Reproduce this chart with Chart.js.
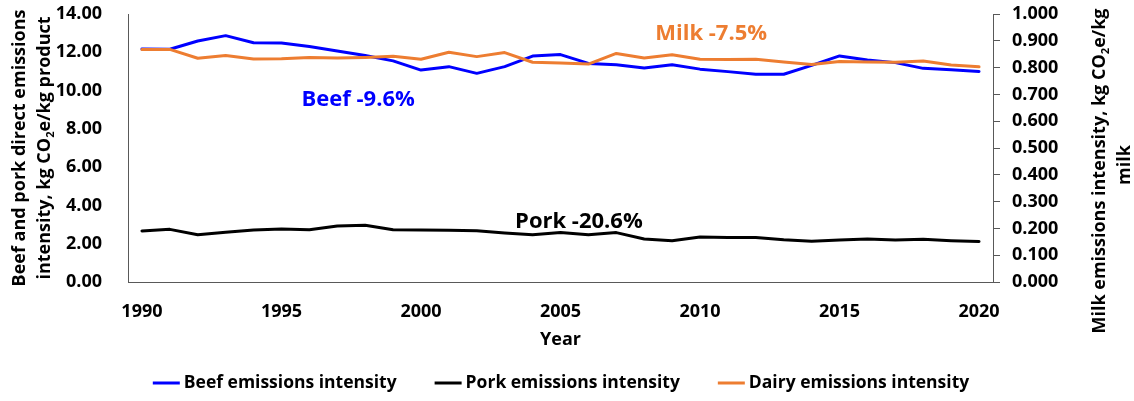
<!DOCTYPE html>
<html>
<head>
<meta charset="utf-8">
<script src="https://cdn.jsdelivr.net/npm/chart.js@4.4.1/dist/chart.umd.min.js"></script>
<style>
  html, body { margin: 0; padding: 0; background: #ffffff; }
  #wrap { width: 1134px; height: 401px; }
</style>
</head>
<body>
<div id="wrap"><canvas id="chart" width="1134" height="401"></canvas></div>
<script>
// Years on the horizontal axis
const years = [1990, 1991, 1992, 1993, 1994, 1995, 1996, 1997, 1998, 1999,
               2000, 2001, 2002, 2003, 2004, 2005, 2006, 2007, 2008, 2009,
               2010, 2011, 2012, 2013, 2014, 2015, 2016, 2017, 2018, 2019, 2020];

// Beef direct emissions intensity, kg CO2e/kg product (left axis)
const beef = [12.17, 12.16, 12.59, 12.87, 12.50, 12.49, 12.30, 12.07, 11.83, 11.55,
              11.07, 11.25, 10.90, 11.25, 11.80, 11.88, 11.42, 11.35, 11.18, 11.35,
              11.12, 10.99, 10.85, 10.85, 11.32, 11.81, 11.60, 11.46, 11.16, 11.09, 11.00];

// Pork direct emissions intensity, kg CO2e/kg product (left axis)
const pork = [2.67, 2.75, 2.47, 2.60, 2.72, 2.77, 2.73, 2.93, 2.96, 2.73,
              2.72, 2.70, 2.68, 2.56, 2.47, 2.58, 2.47, 2.58, 2.25, 2.16,
              2.35, 2.32, 2.33, 2.21, 2.13, 2.19, 2.25, 2.19, 2.23, 2.16, 2.12];

// Milk emissions intensity, kg CO2e/kg milk (right axis)
const dairy = [0.868, 0.868, 0.835, 0.845, 0.832, 0.833, 0.838, 0.836, 0.838, 0.842,
               0.831, 0.857, 0.841, 0.856, 0.820, 0.817, 0.813, 0.853, 0.836, 0.848,
               0.831, 0.830, 0.831, 0.821, 0.812, 0.823, 0.821, 0.820, 0.825, 0.810, 0.803];

// Axis ranges and tick steps
const leftTicks = { min: 0, max: 14, step: 2 };
const rightTicks = { min: 0, max: 1, step: 0.1 };

// Change labels placed next to the lines (year index, value, axis)
const notes = [
  { text: 'Beef -9.6%',  color: '#0000FF', at: 7.75,  value: 9.5,   axis: 'y'  },
  { text: 'Milk -7.5%',  color: '#ED7D31', at: 20.4,  value: 0.925, axis: 'y1' },
  { text: 'Pork -20.6%', color: '#000000', at: 15.66, value: 3.13,  axis: 'y'  }
];

const FONT = '"Open Sans", "DejaVu Sans", sans-serif';
const TEXT = '#000000';
const AXIS = '#595959';

// Draws a line of text with an optional subscript part, centred at (x, y)
function drawRich(ctx, parts, x, y, rot, size) {
  ctx.save();
  ctx.translate(x, y);
  ctx.rotate(rot);
  ctx.textBaseline = 'middle';
  ctx.textAlign = 'left';
  let total = 0;
  const widths = parts.map(p => {
    ctx.font = 'bold ' + (p.sub ? size * 0.62 : size) + 'px ' + FONT;
    const w = ctx.measureText(p.t).width;
    total += w;
    return w;
  });
  let cx = -total / 2;
  parts.forEach((p, i) => {
    ctx.font = 'bold ' + (p.sub ? size * 0.62 : size) + 'px ' + FONT;
    ctx.fillStyle = TEXT;
    ctx.fillText(p.t, cx, p.sub ? size * 0.3 : 0);
    cx += widths[i];
  });
  ctx.restore();
}

const decorations = {
  id: 'decorations',
  afterDatasetsDraw(chart) {
    const { ctx, chartArea, scales } = chart;
    const midY = (chartArea.top + chartArea.bottom) / 2;

    // Left axis title (two lines)
    drawRich(ctx, [{ t: 'Beef and pork direct emissions' }], 20, midY, -Math.PI / 2, 18);
    drawRich(ctx, [{ t: 'intensity, kg CO' }, { t: '2', sub: true }, { t: 'e/kg product' }], 45, midY, -Math.PI / 2, 18);

    // Right axis title (two lines)
    drawRich(ctx, [{ t: 'Milk emissions intensity, kg CO' }, { t: '2', sub: true }, { t: 'e/kg' }], 1100, 171, -Math.PI / 2, 18);
    drawRich(ctx, [{ t: 'milk' }], 1125, 165, -Math.PI / 2, 18);

    // Percentage change labels
    ctx.save();
    ctx.font = 'bold 22px ' + FONT;
    ctx.textAlign = 'center';
    ctx.textBaseline = 'middle';
    notes.forEach(n => {
      ctx.fillStyle = n.color;
      ctx.fillText(n.text, scales.x.getPixelForValue(n.at), scales[n.axis].getPixelForValue(n.value));
    });
    ctx.restore();

    // Legend: short line sample followed by the series name
    ctx.save();
    ctx.font = 'bold 17.5px ' + FONT;
    ctx.textBaseline = 'middle';
    ctx.textAlign = 'left';
    const sample = 27, gapText = 4, gapItem = 38;
    const items = chart.data.datasets.map(ds => ({ ds, w: ctx.measureText(ds.label).width }));
    const total = items.reduce((s, it) => s + sample + gapText + it.w, 0) + gapItem * (items.length - 1);
    let x = 561 - total / 2;
    const y = 383;
    items.forEach(it => {
      ctx.strokeStyle = it.ds.borderColor;
      ctx.lineWidth = 3;
      ctx.beginPath();
      ctx.moveTo(x, y);
      ctx.lineTo(x + sample, y);
      ctx.stroke();
      ctx.fillStyle = TEXT;
      ctx.fillText(it.ds.label, x + sample + gapText, y);
      x += sample + gapText + it.w + gapItem;
    });
    ctx.restore();
  }
};

const tickFont = { family: FONT, size: 18, weight: 'bold' };

// Fixed axis widths; labels may overhang the plot's top edge
function fixWidth(w) {
  return s => { s.width = w; s.paddingTop = 0; s.paddingBottom = 0; };
}

new Chart(document.getElementById('chart'), {
  type: 'line',
  data: {
    labels: years,
    datasets: [
      { label: 'Beef emissions intensity', data: beef, yAxisID: 'y',
        borderColor: '#0000FF', backgroundColor: '#0000FF', borderWidth: 3, order: 1 },
      { label: 'Pork emissions intensity', data: pork, yAxisID: 'y',
        borderColor: '#000000', backgroundColor: '#000000', borderWidth: 3, order: 2 },
      { label: 'Dairy emissions intensity', data: dairy, yAxisID: 'y1',
        borderColor: '#ED7D31', backgroundColor: '#ED7D31', borderWidth: 3, order: 0 }
    ]
  },
  options: {
    responsive: false,
    animation: false,
    layout: { padding: { top: 14, left: 0, right: 0, bottom: 37 } },
    elements: {
      point: { radius: 0, hoverRadius: 0 },
      line: { tension: 0, borderCapStyle: 'round', borderJoinStyle: 'round' }
    },
    plugins: {
      legend: { display: false },
      tooltip: { enabled: false }
    },
    scales: {
      x: {
        type: 'category',
        offset: true,
        grid: { display: false },
        border: { display: true, color: AXIS, width: 1 },
        ticks: {
          autoSkip: false, maxRotation: 0, minRotation: 0, padding: 11,
          color: TEXT, font: tickFont,
          callback: function (v, i) { const yr = years[i]; return yr % 5 === 0 ? String(yr) : null; }
        },
        title: { display: true, text: 'Year', color: TEXT, font: tickFont, padding: { top: 0, bottom: 13 } },
        afterFit: s => { s.height = 82; s.paddingLeft = 0; s.paddingRight = 0; }
      },
      y: {
        position: 'left',
        min: leftTicks.min, max: leftTicks.max,
        grid: { display: false },
        border: { display: true, color: AXIS, width: 1 },
        ticks: { stepSize: leftTicks.step, padding: 18, color: TEXT, font: tickFont,
                 callback: v => Number(v).toFixed(2) },
        afterFit: fixWidth(128)
      },
      y1: {
        position: 'right',
        min: rightTicks.min, max: rightTicks.max,
        grid: { display: true, drawOnChartArea: false, drawTicks: true, tickLength: 7, color: AXIS },
        border: { display: true, color: AXIS, width: 1 },
        ticks: { stepSize: rightTicks.step, padding: 12, color: TEXT, font: tickFont,
                 callback: v => Number(v).toFixed(3) },
        afterFit: fixWidth(141)
      }
    }
  },
  plugins: [decorations]
});
</script>
</body>
</html>
